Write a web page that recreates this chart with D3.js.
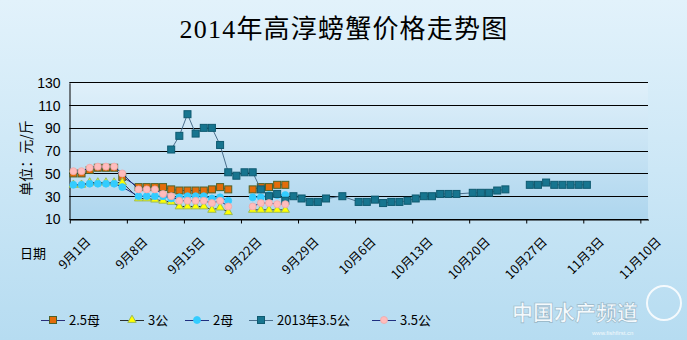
<!DOCTYPE html>
<html><head><meta charset="utf-8">
<script src="https://cdn.jsdelivr.net/npm/d3@7"></script>
<style>
html,body{margin:0;padding:0;background:#d6ecf8;}
svg{display:block;}
</style></head>
<body>
<svg id="c" width="687" height="340"></svg>
<script>
// ---------------- data ----------------
const title = "2014年高淳螃蟹价格走势图";
const yLabel = "单位：元/斤";
const xLabel = "日期";
const dates = [
 "2014-09-01","2014-09-02","2014-09-03","2014-09-04","2014-09-05","2014-09-06","2014-09-07",
 "2014-09-09","2014-09-10","2014-09-11","2014-09-12","2014-09-13","2014-09-14","2014-09-15","2014-09-16",
 "2014-09-17","2014-09-18","2014-09-19","2014-09-20","2014-09-21","2014-09-22","2014-09-23","2014-09-24",
 "2014-09-25","2014-09-26","2014-09-27","2014-09-28","2014-09-29","2014-09-30",
 "2014-10-01","2014-10-02","2014-10-04",
 "2014-10-06","2014-10-07","2014-10-08","2014-10-09","2014-10-10","2014-10-11","2014-10-12","2014-10-13",
 "2014-10-14","2014-10-15","2014-10-16","2014-10-17","2014-10-18",
 "2014-10-20","2014-10-21","2014-10-22","2014-10-23","2014-10-24","2014-10-25",
 "2014-10-27","2014-10-28","2014-10-29","2014-10-30","2014-10-31","2014-11-01","2014-11-02","2014-11-03"
];
const seriesNames = ["2.5母","3公","2母","2013年3.5公","3.5公"];
const mother25 = [50,50,53,55,55,55,47,38,38,38,38,36,35,35,35,35,36,38,36,null,null,36,38,38,40,40];
const male3    = [40,40,42,42,42,42,42,28,28,27,26,25,21,21,21,21,18,20,16,null,null,18,18,18,18,18];
const mother2  = [40,40,41,41,41,41,38,30,30,30,30,28,29,30,30,30,28,29,26,null,null,29,29,31,31,31];
const male35_2013 = [null,null,null,null,null,null,null,null,null,null,null,
 71,83,102,85,90,90,75,51,48,51,51,36,30,32,26,30,28,25,25,28,30,25,25,27,24,25,25,26,28,30,30,32,32,32,33,33,33,35,36,
 null,40,40,42,40,40,40,40,40];
const male35   = [52,52,55,56,56,56,50,36,36,36,32,30,26,26,26,26,24,26,21,null,null,21,24,24,23,23];
const yTicks = [10,30,50,70,90,110,130];
const xTickLabels = ["9月1日","9月8日","9月15日","9月22日","9月29日","10月6日","10月13日","10月20日","10月27日","11月3日","11月10日"];
const xDomain = ["2014-09-01","2014-11-11"];

// ---------------- chart ----------------
const svg = d3.select("#c");
const W = 687, H = 340;
const L = 69.3, R = 648, T = 82.3, B = 219;
const parse = d3.utcParse("%Y-%m-%d");
const x = d3.scaleUtc().domain(xDomain.map(parse)).range([L, R]);
const y = d3.scaleLinear().domain([10,130]).range([B, T]);
const xc = s => x(d3.utcHour.offset(parse(s), 12));

const defs = svg.append("defs");
const g1 = defs.append("linearGradient").attr("id","bg").attr("x1",0).attr("y1",0).attr("x2",0).attr("y2",1);
g1.append("stop").attr("offset","0%").attr("stop-color","#e2f2fb");
g1.append("stop").attr("offset","100%").attr("stop-color","#b6dcf1");
const g2 = defs.append("linearGradient").attr("id","pa").attr("x1",0).attr("y1",0).attr("x2",0).attr("y2",1);
g2.append("stop").attr("offset","0%").attr("stop-color","#e0f0fa");
g2.append("stop").attr("offset","100%").attr("stop-color","#aed6ee");

svg.append("rect").attr("width",W).attr("height",H).attr("fill","url(#bg)");
svg.append("rect").attr("x",L).attr("y",T).attr("width",R-L).attr("height",B-T).attr("fill","url(#pa)");

// title
svg.append("text").attr("x",344).attr("y",38).attr("text-anchor","middle")
  .attr("font-family","'Liberation Serif','Noto Sans CJK SC',serif").attr("font-size",26)
  .attr("letter-spacing",1.2).attr("fill","#000").text(title);

// gridlines
svg.append("g").selectAll("line").data(yTicks).join("line")
  .attr("x1",L).attr("x2",R).attr("y1",d=>Math.round(y(d))+0.5).attr("y2",d=>Math.round(y(d))+0.5)
  .attr("stroke","#000").attr("stroke-width",1);

// y axis
const yAxis = d3.axisLeft(y).tickValues(yTicks).tickSize(0).tickPadding(9);
const ya = svg.append("g").attr("transform",`translate(${Math.round(L)+0.5},0.5)`).call(yAxis);
ya.select(".domain").attr("stroke","#000");
ya.selectAll("text").attr("font-family","'Liberation Sans',Arial,sans-serif").attr("font-size",14).attr("fill","#000");

// x axis
const tickDates = xTickLabels.map((s,i)=>d3.utcDay.offset(parse(xDomain[0]), 7*i));
const xAxis = d3.axisBottom(x).tickValues(tickDates).tickFormat((d,i)=>xTickLabels[i]).tickSize(4).tickSizeOuter(0);
const xa = svg.append("g").attr("transform",`translate(0.5,${Math.round(B)+0.5})`).call(xAxis);
xa.select(".domain").attr("stroke","#000");
xa.selectAll(".tick line").attr("stroke","#000");
xa.selectAll("text").attr("x",0).attr("y",0).attr("dy","0.35em")
  .attr("text-anchor","end").attr("transform","translate(18,20) rotate(-45)")
  .attr("font-family","'Noto Sans CJK SC',sans-serif").attr("font-size",12.5).attr("fill","#000");

// axis titles
svg.append("text").attr("transform","translate(31,158) rotate(-90)").attr("text-anchor","middle")
  .attr("font-family","'Noto Sans CJK SC',sans-serif").attr("font-size",14).attr("fill","#000").text(yLabel);
svg.append("text").attr("x",33).attr("y",258).attr("text-anchor","middle")
  .attr("font-family","'Noto Sans CJK SC',sans-serif").attr("font-size",13).attr("fill","#000").text(xLabel);

// series
const styles = [
  {vals:mother25, shape:"square", fill:"#e46c0a", stroke:"#4f6228", line:"#2a2f78"},
  {vals:male3, shape:"triangle", fill:"#ffff00", stroke:"#9bbb59", line:"#2a2f30"},
  {vals:mother2, shape:"circle", fill:"#33ccff", stroke:"#33ccff", line:"#1f2f80"},
  {vals:male35_2013, shape:"square", fill:"#17758f", stroke:"#0f5a70", line:"#4a6f8c"},
  {vals:male35, shape:"circle", fill:"#ffbcbc", stroke:"#f0a8a8", line:"#1f2f80"}
];
function marker(sel, st, size){
  const s = size || 7;
  if(st.shape==="square"){
    sel.append("rect").attr("x",-s/2).attr("y",-s/2).attr("width",s).attr("height",s)
      .attr("fill",st.fill).attr("stroke",st.stroke).attr("stroke-width",1);
  } else if(st.shape==="circle"){
    sel.append("circle").attr("r",s/2).attr("fill",st.fill).attr("stroke",st.stroke).attr("stroke-width",0.8);
  } else {
    sel.append("path").attr("d",d3.symbol(d3.symbolTriangle, s*s*0.62)())
      .attr("fill",st.fill).attr("stroke",st.stroke).attr("stroke-width",1);
  }
}
styles.forEach(st=>{
  const pts = st.vals.map((v,i)=>({d:dates[i], v}));
  const line = d3.line().defined(p=>p.v!=null).x(p=>xc(p.d)).y(p=>y(p.v));
  const g = svg.append("g");
  g.append("path").attr("d",line(pts)).attr("fill","none").attr("stroke",st.line).attr("stroke-width",1);
  g.selectAll("g").data(pts.filter(p=>p.v!=null)).join("g")
    .attr("transform",p=>`translate(${xc(p.d)},${y(p.v)})`)
    .each(function(){ marker(d3.select(this), st); });
});

// legend
const legX = [41,120,185,249,372];
const lg = svg.append("g");
styles.forEach((st,i)=>{
  const gx = legX[i], gy = 320;
  lg.append("line").attr("x1",gx).attr("x2",gx+24).attr("y1",gy+0.5).attr("y2",gy+0.5).attr("stroke",st.line).attr("stroke-width",1);
  const m = lg.append("g").attr("transform",`translate(${gx+12},${gy})`);
  marker(m, st, 7);
  lg.append("text").attr("x",gx+28).attr("y",gy).attr("dy","0.36em")
    .attr("font-family","'Noto Sans CJK SC',sans-serif").attr("font-size",13).attr("fill","#000").text(seriesNames[i]);
});

// watermark
const wm = svg.append("g").attr("opacity",0.85);
wm.append("circle").attr("cx",664).attr("cy",303).attr("r",17).attr("fill","none").attr("stroke","#ffffff").attr("stroke-width",2);
wm.append("text").attr("x",512).attr("y",320).attr("font-family","'Noto Sans CJK SC',sans-serif")
  .attr("font-weight","bold").attr("font-size",21).attr("fill","#ffffff").attr("stroke","#8fadbd").attr("stroke-width",0.6)
  .text("中国水产频道");
wm.append("text").attr("x",592).attr("y",335).attr("font-family","'Liberation Sans',sans-serif")
  .attr("font-size",6).attr("fill","#ffffff").text("www.fishfirst.cn");
</script>
</body></html>
